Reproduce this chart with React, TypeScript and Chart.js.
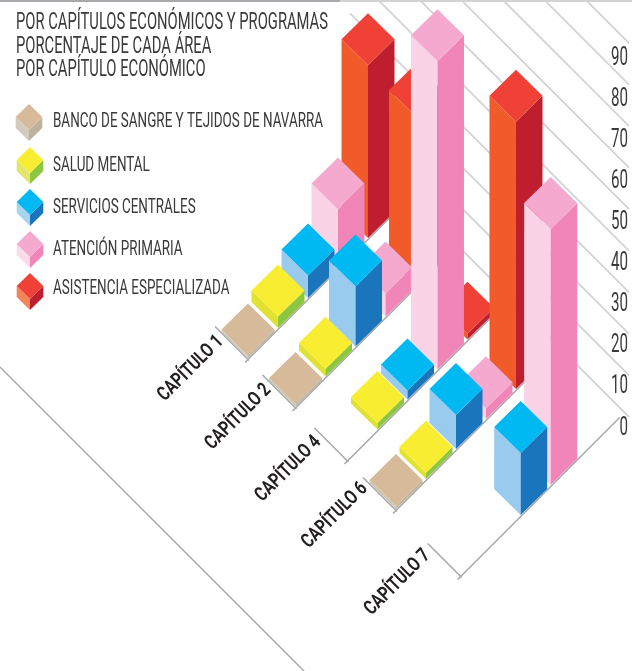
import React, { useEffect, useRef } from "react";
import { Chart, registerables } from "chart.js";

Chart.register(...registerables);

const titleLines = ["POR CAPÍTULOS ECONÓMICOS Y PROGRAMAS", "PORCENTAJE DE CADA ÁREA", "POR CAPÍTULO ECONÓMICO"];
const chapters = ["CAPÍTULO 1", "CAPÍTULO 2", "CAPÍTULO 4", "CAPÍTULO 6", "CAPÍTULO 7"];
const chapterPositions = [1, 1.97, 3.03, 4.02, 5.34];
const seriesNames = ["BANCO DE SANGRE Y TEJIDOS DE NAVARRA", "SALUD MENTAL", "SERVICIOS CENTRALES", "ATENCIÓN PRIMARIA", "ASISTENCIA ESPECIALIZADA"];

const banco = [0.6, 0.6, null, 0.7, null];
const salud = [2.8, 1.9, 1.6, 1.5, null];
const servicios = [5.5, 14.6, 2.2, 8.3, 15.1];
const atencion = [14.2, 5.6, 75, 2.6, 62.3];
const asistencia = [42, 41.5, 1.4, 65, null];
const seriesValues = [banco, salud, servicios, atencion, asistencia];

const topColors = ["#D7BA9A", "#F9ED32", "#00B9F2", "#F5A9CE", "#EF4136"];
const leftColors = ["#CDC5B5", "#E0E22F", "#98CBEE", "#FAD3E6", "#F15A29"];
const rightColors = ["#BDB29A", "#8DC63F", "#1B75BC", "#F285B8", "#BE1E2D"];
const legendLeftColors = ["#D2CBBE", "#E3E66A", "#A9D4EE", "#FBDCEB", "#F58559"];
const chapterLabelShiftX = [-57, -57, -59, -61, -63];
const chapterLabelShiftY = [9, 9, 8, 5, 6];

const FONT = 'Roboto, "Liberation Sans", sans-serif';
const TEXT = "#3A3A3C";

function prism(ctx: CanvasRenderingContext2D, x: number, baseY: number, height: number, hw: number, hh: number, s: number, left = leftColors[s]) {
  const y = baseY - height;
  ctx.fillStyle = left;
  ctx.beginPath();
  ctx.moveTo(x - hw, y); ctx.lineTo(x, y + hh); ctx.lineTo(x, baseY + hh); ctx.lineTo(x - hw, baseY);
  ctx.closePath(); ctx.fill();
  ctx.fillStyle = rightColors[s];
  ctx.beginPath();
  ctx.moveTo(x + hw, y); ctx.lineTo(x, y + hh); ctx.lineTo(x, baseY + hh); ctx.lineTo(x + hw, baseY);
  ctx.closePath(); ctx.fill();
  ctx.fillStyle = topColors[s];
  ctx.beginPath();
  ctx.moveTo(x, y - hh); ctx.lineTo(x + hw, y); ctx.lineTo(x, y + hh); ctx.lineTo(x - hw, y);
  ctx.closePath(); ctx.fill();
}

function text(ctx: CanvasRenderingContext2D, str: string, x: number, y: number, font: string, sx: number, color: string, align: CanvasTextAlign = "left", angle = 0) {
  ctx.save();
  ctx.font = font;
  ctx.fillStyle = color;
  ctx.textAlign = align;
  ctx.textBaseline = "middle";
  ctx.translate(x, y);
  ctx.rotate(angle);
  ctx.scale(sx, 1);
  ctx.fillText(str, 0, 0);
  ctx.restore();
}

function fit(ctx: CanvasRenderingContext2D, str: string, font: string, width: number) {
  ctx.font = font;
  return width / ctx.measureText(str).width;
}

function line(ctx: CanvasRenderingContext2D, pts: number[][], color: string, width: number) {
  ctx.strokeStyle = color;
  ctx.lineWidth = width;
  ctx.beginPath();
  pts.forEach((p, i) => (i ? ctx.lineTo(p[0], p[1]) : ctx.moveTo(p[0], p[1])));
  ctx.stroke();
}

const isoPlugin = {
  id: "iso",
  beforeDatasetsDraw(chart: any) {
    const ctx: CanvasRenderingContext2D = chart.ctx;
    const { x, xs, y, yg } = chart.scales;
    const zero = y.getPixelForValue(0);
    const baseOrigin = zero - 95;
    const rowX = (p: number) => x.getPixelForValue(p);
    const rowY = (p: number) => baseOrigin + (rowX(p) - rowX(1)) * (50 / 49);
    const off = (s: number) => xs.getPixelForValue(s) - xs.getPixelForValue(0);

    ctx.save();
    ctx.lineCap = "butt";
    ctx.fillStyle = "#A7A9AC";
    ctx.fillRect(0, 0, 340, 2);
    ctx.fillStyle = "#D1D3D4";
    ctx.fillRect(340, 0, 292, 2);

    // back wall grid
    y.ticks.forEach((t: any) => {
      const ye = yg.getPixelForValue(t.value);
      line(ctx, [[350, ye - (629 - 350)], [629, ye]], "#D1D3D4", 1.8);
    });
    // floor border
    line(ctx, [[0, 367], [304, 671]], "#A7A9AC", 1.5);

    // row axes
    const chapterFont = `bold 20px ${FONT}`;
    const chapterSx = fit(ctx, chapters[0], chapterFont, 84);
    chapterPositions.forEach((p, i) => {
      const cx = rowX(p);
      const cy = rowY(p) + 27.5;
      const len = i === chapterPositions.length - 1 ? 159 : 146;
      line(ctx, [[cx - 33, cy - 33], [cx + 1, cy + 1]], "#A7A9AC", 1.6);
      line(ctx, [[cx - 3, cy + 3], [cx + len, cy - len]], "#A7A9AC", 1.6);
      text(ctx, chapters[i], cx + chapterLabelShiftX[i], cy + chapterLabelShiftY[i], chapterFont, chapterSx, "#231F20", "center", -Math.PI / 4);
    });

    // prisms, back to front
    const marks: any[] = [];
    seriesValues.forEach((vals, s) =>
      vals.forEach((v, c) => {
        if (v === null) return;
        const p = chapterPositions[c];
        marks.push({ s, x: rowX(p) + off(s), base: rowY(p) - off(s), h: zero - y.getPixelForValue(v) });
      })
    );
    marks.sort((a, b) => a.base - b.base);
    marks.forEach((m) => prism(ctx, m.x, m.base, m.h, 26.5, 26, m.s));

    // value ticks
    const tickFont = `26px ${FONT}`;
    const tickSx = fit(ctx, "90", tickFont, 17);
    y.ticks.forEach((t: any) => {
      text(ctx, String(t.value), 628, y.getPixelForValue(t.value) + 1, tickFont, tickSx, TEXT, "right");
    });

    // title
    const titleFont = `23px ${FONT}`;
    const titleSx = fit(ctx, titleLines[0], titleFont, 312);
    titleLines.forEach((l, i) => text(ctx, l, 16, [23, 47, 70][i], titleFont, titleSx, TEXT));

    // legend
    const legendFont = `20px ${FONT}`;
    const legendSx = fit(ctx, seriesNames[0], legendFont, 270);
    const legendY = [122, 166, 208, 250, 289];
    const legendMarkY = [117, 160, 202, 244, 286];
    seriesNames.forEach((n, s) => {
      const mx = s === 0 ? 29 : 30;
      const my = legendMarkY[s];
      prism(ctx, mx, my + 11, 11, 13.3, 13, s, legendLeftColors[s]);
      text(ctx, n, 53, legendY[s], legendFont, legendSx, TEXT);
    });
    ctx.restore();
  },
};

export default function App() {
  const ref = useRef<HTMLCanvasElement>(null);
  useEffect(() => {
    if (!ref.current) return;
    const chart = new Chart(ref.current, {
      type: "scatter",
      data: {
        datasets: seriesNames.map((label, s) => ({
          label,
          data: seriesValues[s].map((v, c) => ({ x: chapterPositions[c], y: v })),
          backgroundColor: topColors[s],
          pointRadius: 0,
        })),
      },
      options: {
        responsive: false,
        animation: false,
        layout: { padding: { top: 57, bottom: 244, left: 0, right: 0 } },
        plugins: { legend: { display: false }, tooltip: { enabled: false }, title: { display: false } },
        scales: {
          x: { type: "linear", display: false, min: -4.0612, max: 8.8367 },
          xs: { type: "linear", axis: "x", display: false, min: 0, max: 21.0667 },
          y: { type: "linear", display: false, min: 0, max: 90, ticks: { stepSize: 10 } },
          yg: { type: "linear", axis: "y", display: false, min: -2.41, max: 86.64 },
        },
      },
      plugins: [isoPlugin],
    } as any);
    return () => chart.destroy();
  }, []);
  return <canvas ref={ref} width={632} height={671} style={{ position: "absolute", left: 0, top: 0, width: 632, height: 671 }} />;
}
